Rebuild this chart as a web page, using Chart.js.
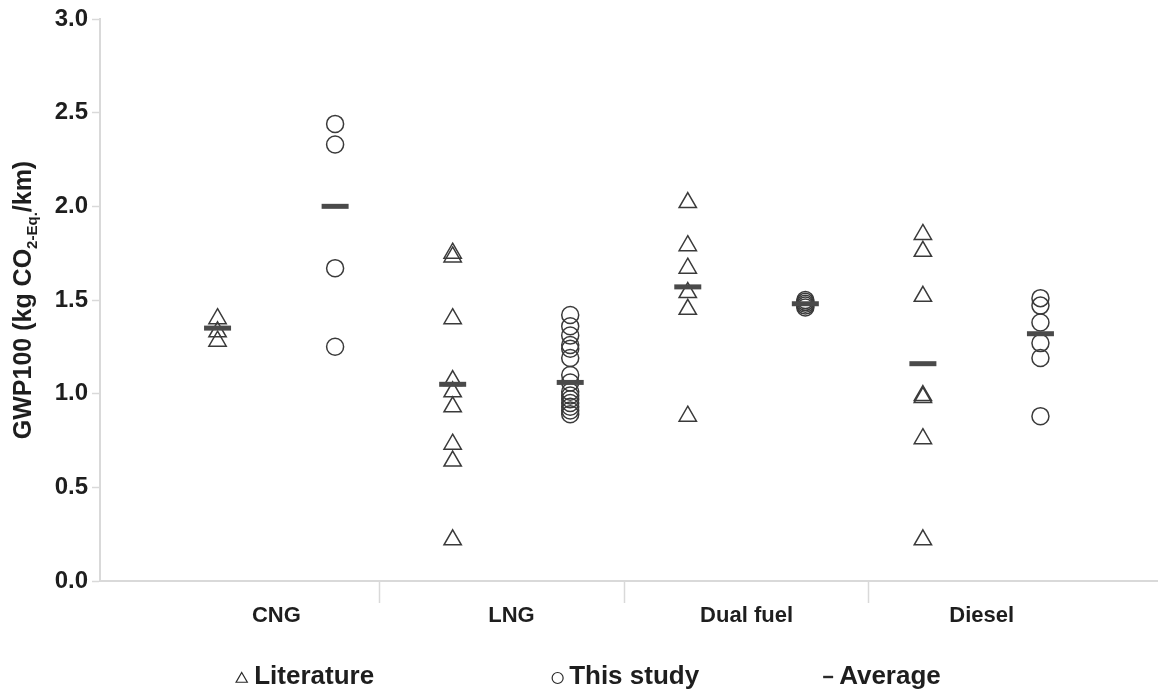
<!DOCTYPE html>
<html>
<head>
<meta charset="utf-8">
<script src="https://cdn.jsdelivr.net/npm/chart.js@4/dist/chart.umd.min.js"></script>
<style>
  html, body { margin: 0; padding: 0; background: #ffffff; overflow: hidden; }
  canvas { display: block; }
</style>
</head>
<body>
<canvas id="chart" width="1158" height="693"></canvas>
<script>
// Fuel types on the x axis
const categories = ['CNG', 'LNG', 'Dual fuel', 'Diesel'];

// GWP100 values (kg CO2-Eq./km) per fuel type
const literature = [
  [1.40, 1.33, 1.28],
  [1.75, 1.73, 1.40, 1.07, 1.01, 0.93, 0.73, 0.64, 0.22],
  [2.02, 1.79, 1.67, 1.54, 1.45, 0.88],
  [1.85, 1.76, 1.52, 0.99, 0.98, 0.76, 0.22]
];
const thisStudy = [
  [2.44, 2.33, 1.67, 1.25],
  [1.42, 1.36, 1.31, 1.26, 1.24, 1.19, 1.10, 1.06, 1.01, 0.99, 0.97, 0.95, 0.93, 0.91, 0.89],
  [1.50, 1.49, 1.48, 1.47, 1.46],
  [1.51, 1.47, 1.38, 1.27, 1.19, 0.88]
];
const averageLiterature = [1.35, 1.05, 1.57, 1.16];
const averageStudy = [2.00, 1.06, 1.48, 1.32];

// Value axis ticks
const yTicks = [0, 0.5, 1.0, 1.5, 2.0, 2.5, 3.0];

// Group layout on the numeric x axis: category i is centred on i
const groupOffset = 0.25;
const separators = [0.44, 1.48, 2.52];

const FONT = "'Liberation Sans', Arial, sans-serif";
const INK = '#1e1e1e';
const AXIS_GREY = '#d9d9d9';

function toPoints(groups, offset) {
  const pts = [];
  groups.forEach((vals, i) => vals.forEach(v => pts.push({ x: i + offset, y: v })));
  return pts;
}

const datasets = [
  {
    label: 'Literature',
    data: toPoints(literature, -groupOffset),
    pointStyle: 'triangle',
    pointRadius: 10,
    borderColor: '#3a3a3a',
    borderWidth: 1.5,
    backgroundColor: 'rgba(0,0,0,0)',
    order: 2
  },
  {
    label: 'This study',
    data: toPoints(thisStudy, groupOffset),
    pointStyle: 'circle',
    pointRadius: 8.5,
    borderColor: '#3a3a3a',
    borderWidth: 1.5,
    backgroundColor: 'rgba(0,0,0,0)',
    order: 1
  },
  {
    label: 'Average',
    data: averageLiterature.map((v, i) => ({ x: i - groupOffset, y: v }))
      .concat(averageStudy.map((v, i) => ({ x: i + groupOffset, y: v }))),
    pointStyle: 'line',
    pointRadius: 13.5,
    borderColor: '#4a4a4a',
    borderWidth: 5,
    backgroundColor: '#4a4a4a',
    order: 0
  }
];

// Rotated y-axis title with a subscript run
const yTitlePlugin = {
  id: 'yTitle',
  afterDraw(chart) {
    const { ctx, chartArea } = chart;
    const runs = [
      { text: 'GWP100 (kg CO', size: 25, shift: 0 },
      { text: '2-Eq.', size: 15, shift: 6 },
      { text: '/km)', size: 25, shift: 0 }
    ];
    ctx.save();
    let total = 0;
    runs.forEach(r => {
      ctx.font = `bold ${r.size}px ${FONT}`;
      r.w = ctx.measureText(r.text).width;
      total += r.w;
    });
    ctx.translate(31, (chartArea.top + chartArea.bottom) / 2);
    ctx.rotate(-Math.PI / 2);
    ctx.fillStyle = INK;
    ctx.textBaseline = 'alphabetic';
    ctx.textAlign = 'left';
    let x = -total / 2;
    runs.forEach(r => {
      ctx.font = `bold ${r.size}px ${FONT}`;
      ctx.fillText(r.text, x, r.shift);
      x += r.w;
    });
    ctx.restore();
  }
};

// drawPoint uses the current stroke/fill styles; set them before each legend symbol
function legendSymbol(ctx, style, radius, lw, x, y) {
  ctx.strokeStyle = '#2a2a2a';
  ctx.fillStyle = 'rgba(0,0,0,0)';
  ctx.lineWidth = lw;
  Chart.helpers.drawPoint(ctx, { pointStyle: style, radius, rotation: 0, borderWidth: lw }, x, y);
}

// Bottom legend: symbol followed by bold label, widely spaced
const legendPlugin = {
  id: 'wideLegend',
  afterDraw(chart) {
    const { ctx, width } = chart;
    const items = [
      { style: 'triangle', radius: 6.5, label: datasets[0].label, lw: 1.2, dy: 2 },
      { style: 'circle', radius: 5.5, label: datasets[1].label, lw: 1.2, dy: 1 },
      { style: 'line', radius: 5, label: datasets[2].label, lw: 2.4, dy: 0 }
    ];
    const gaps = [178, 124];
    const symGap = 6;
    const y = 677;
    const size = 26;
    ctx.save();
    ctx.font = `bold ${size}px ${FONT}`;
    items.forEach(it => { it.tw = ctx.measureText(it.label).width; it.w = it.radius * 2 + symGap + it.tw; });
    const total = items.reduce((s, it) => s + it.w, 0) + gaps[0] + gaps[1];
    let x = (width - total) / 2 + 9;
    items.forEach((it, i) => {
      legendSymbol(ctx, it.style, it.radius, it.lw, x + it.radius, y + it.dy);
      ctx.fillStyle = INK;
      ctx.textAlign = 'left';
      ctx.textBaseline = 'middle';
      ctx.font = `bold ${size}px ${FONT}`;
      ctx.fillText(it.label, x + it.radius * 2 + symGap, y);
      x += it.w + (gaps[i] || 0);
    });
    ctx.restore();
  }
};

new Chart(document.getElementById('chart'), {
  type: 'scatter',
  data: { datasets },
  options: {
    responsive: false,
    animation: false,
    events: [],
    layout: { autoPadding: false, padding: { top: 19, right: 0, bottom: 0, left: 0 } },
    plugins: {
      legend: { display: false },
      tooltip: { enabled: false }
    },
    scales: {
      x: {
        type: 'linear',
        min: -0.75,
        max: 3.75,
        afterBuildTicks(scale) {
          const vals = categories.map((c, i) => i).concat(separators).sort((a, b) => a - b);
          scale.ticks = vals.map(v => ({ value: v }));
        },
        afterFit(scale) {
          scale.height = 112;
          scale.paddingLeft = 0;
          scale.paddingRight = 0;
        },
        border: { color: AXIS_GREY, width: 2 },
        grid: {
          drawOnChartArea: false,
          drawTicks: true,
          tickLength: 22,
          tickWidth: 1.5,
          tickColor: ctx => (ctx.tick && Number.isInteger(ctx.tick.value)) ? 'rgba(0,0,0,0)' : AXIS_GREY
        },
        ticks: {
          autoSkip: false,
          maxRotation: 0,
          padding: 0,
          color: INK,
          font: { family: FONT, size: 22, weight: 'bold' },
          callback: v => Number.isInteger(v) ? categories[v] : ''
        }
      },
      y: {
        min: 0,
        max: 3,
        afterBuildTicks(scale) { scale.ticks = yTicks.map(v => ({ value: v })); },
        afterFit(scale) { scale.width = 100; },
        border: { color: AXIS_GREY, width: 2 },
        grid: {
          drawOnChartArea: false,
          tickLength: 8,
          tickWidth: 1.5,
          tickColor: AXIS_GREY
        },
        ticks: {
          padding: 4,
          color: INK,
          font: { family: FONT, size: 24, weight: 'bold' },
          callback: v => v.toFixed(1)
        }
      }
    }
  },
  plugins: [yTitlePlugin, legendPlugin]
});
</script>
</body>
</html>
